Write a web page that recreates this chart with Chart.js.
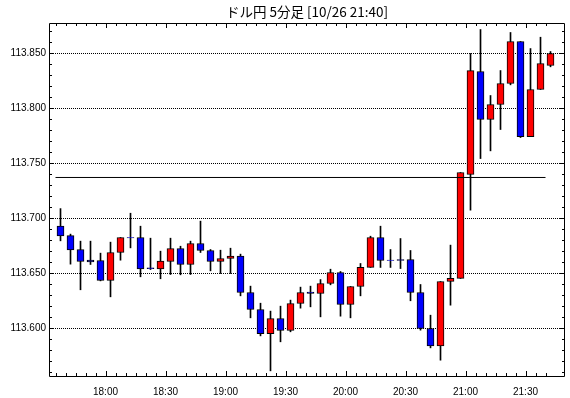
<!DOCTYPE html>
<html>
<head>
<meta charset="utf-8">
<script src="https://cdn.jsdelivr.net/npm/chart.js@4/dist/chart.umd.min.js"></script>
<style>
  body { margin: 0; background: #fff; }
  #wrap { width: 570px; height: 398px; }
</style>
</head>
<body>
<div id="wrap"><canvas id="myChart" width="570" height="398"></canvas></div>
<script>
const title = "ドル円 5分足 [10/26 21:40]";

// 5 minute candles, start time of each bar
const times = [
  "17:35", "17:40", "17:45", "17:50", "17:55", "18:00", "18:05", "18:10", "18:15", "18:20",
  "18:25", "18:30", "18:35", "18:40", "18:45", "18:50", "18:55", "19:00", "19:05", "19:10",
  "19:15", "19:20", "19:25", "19:30", "19:35", "19:40", "19:45", "19:50", "19:55", "20:00",
  "20:05", "20:10", "20:15", "20:20", "20:25", "20:30", "20:35", "20:40", "20:45", "20:50",
  "20:55", "21:00", "21:05", "21:10", "21:15", "21:20", "21:25", "21:30", "21:35", "21:40"
];
const open = [
  113.6930, 113.6845, 113.6718, 113.6621, 113.6618, 113.6436, 113.6691, 113.6827, 113.6827, 113.6552,
  113.6542, 113.6609, 113.6727, 113.6582, 113.6773, 113.6709, 113.6609, 113.6636, 113.6658, 113.6327,
  113.6173, 113.5952, 113.6091, 113.5982, 113.6227, 113.6330, 113.6318, 113.6409, 113.6509, 113.6218,
  113.6382, 113.6555, 113.6827, 113.6621, 113.6627, 113.6627, 113.6327, 113.6000, 113.5842, 113.6427,
  113.6455, 113.7400, 113.8336, 113.7900, 113.8036, 113.8227, 113.8609, 113.7745, 113.8173, 113.8391
];
const high = [
  113.7090, 113.6858, 113.6794, 113.6794, 113.6685, 113.6785, 113.6827, 113.7048, 113.6930, 113.6821,
  113.6703, 113.6821, 113.6748, 113.6794, 113.6976, 113.6718, 113.6712, 113.6730, 113.6676, 113.6385,
  113.6230, 113.6158, 113.6203, 113.6258, 113.6376, 113.6385, 113.6445, 113.6539, 113.6518, 113.6382,
  113.6591, 113.6839, 113.6930, 113.6718, 113.6818, 113.6709, 113.6400, 113.6121, 113.6427, 113.6758,
  113.7418, 113.8500, 113.8718, 113.8118, 113.8345, 113.8691, 113.8609, 113.8545, 113.8648, 113.8518
];
const low = [
  113.6797, 113.6585, 113.6352, 113.6582, 113.6433, 113.6288, 113.6621, 113.6733, 113.6470, 113.6536,
  113.6452, 113.6491, 113.6488, 113.6491, 113.6691, 113.6524, 113.6500, 113.6500, 113.6297, 113.6097,
  113.5933, 113.5615, 113.5879, 113.5970, 113.6185, 113.6197, 113.6106, 113.6397, 113.6112, 113.6097,
  113.6297, 113.6555, 113.6555, 113.6555, 113.6545, 113.6252, 113.5985, 113.5824, 113.5712, 113.6212,
  113.6455, 113.7076, 113.7545, 113.7615, 113.7809, 113.8215, 113.7736, 113.7745, 113.8173, 113.8379
];
const close = [
  113.6842, 113.6715, 113.6609, 113.6606, 113.6436, 113.6691, 113.6827, 113.6824, 113.6542, 113.6545,
  113.6612, 113.6727, 113.6582, 113.6773, 113.6709, 113.6609, 113.6636, 113.6658, 113.6327, 113.6173,
  113.5952, 113.6091, 113.5982, 113.6227, 113.6327, 113.6320, 113.6409, 113.6509, 113.6218, 113.6382,
  113.6555, 113.6827, 113.6618, 113.6618, 113.6618, 113.6327, 113.6000, 113.5842, 113.6427, 113.6455,
  113.7418, 113.8345, 113.7900, 113.8036, 113.8227, 113.8609, 113.7745, 113.8173, 113.8409, 113.8500
];

// flat reference line
const refLevel = 113.7373;
const refFrom = "17:35";
const refTo = "21:40";

const yMin = 113.556818;
const yMax = 113.877727;

function toMin(t) {
  const [h, m] = t.split(":").map(Number);
  return h * 60 + m;
}
function toTime(m) {
  const h = Math.floor(m / 60);
  const mm = m % 60;
  return h + ":" + String(mm).padStart(2, "0");
}
function isMajorY(v) {
  return Math.round(v * 1000) % 50 === 0;
}

const centers = times.map((t) => toMin(t) + 2.5);
const upColor = "#ff0000";
const downColor = "#0000ff";

const bodies = centers.map((x, i) => ({ x: x, y: [open[i], close[i]] }));
const bodyColors = centers.map((x, i) => (close[i] >= open[i] ? upColor : downColor));
const wicks = centers.map((x, i) => ({ x: x, y: [low[i], high[i]] }));

// frame and inward tick marks like the original chart
const framePlugin = {
  id: "frame",
  afterDraw(chart) {
    const ctx = chart.ctx;
    const a = chart.chartArea;
    const xs = chart.scales.x;
    const ys = chart.scales.y;
    ctx.save();
    ctx.strokeStyle = "#000";
    ctx.lineWidth = 1;
    ctx.beginPath();
    ctx.rect(a.left + 0.5, a.top + 0.5, a.right - a.left - 1, a.bottom - a.top);
    ctx.stroke();
    ctx.beginPath();
    xs.ticks.forEach((t) => {
      const px = Math.round(xs.getPixelForValue(t.value)) + 0.5;
      const len = t.value % 30 === 0 ? 5 : 3;
      ctx.moveTo(px, a.bottom);
      ctx.lineTo(px, a.bottom - len);
      ctx.moveTo(px, a.top);
      ctx.lineTo(px, a.top + len);
    });
    ys.ticks.forEach((t) => {
      const py = Math.round(ys.getPixelForValue(t.value) - 0.5) + 0.5;
      const len = isMajorY(t.value) ? 5 : 3;
      ctx.moveTo(a.left, py);
      ctx.lineTo(a.left + len, py);
      ctx.moveTo(a.right, py);
      ctx.lineTo(a.right - len, py);
    });
    ctx.stroke();
    ctx.restore();
  },
};

const labelFont = { family: "Liberation Sans", size: 10 };

const config = {
  type: "bar",
  data: {
    datasets: [
      {
        type: "line",
        data: [
          { x: toMin(refFrom), y: refLevel },
          { x: toMin(refTo), y: refLevel },
        ],
        borderColor: "#000",
        borderWidth: 1,
        pointRadius: 0,
      },
      {
        data: bodies,
        backgroundColor: bodyColors,
        borderColor: "#000",
        borderWidth: 1,
        borderSkipped: false,
        barThickness: 7,
        grouped: false,
      },
      {
        data: wicks,
        backgroundColor: "#000",
        borderWidth: 0,
        barThickness: 1,
        grouped: false,
      },
    ],
  },
  options: {
    responsive: false,
    animation: false,
    layout: { padding: { left: 0, right: 5, top: 0, bottom: 0 } },
    plugins: {
      legend: { display: false },
      tooltip: { enabled: false },
      title: {
        display: true,
        text: title,
        color: "#000",
        fullSize: false,
        font: { family: "Noto Sans CJK JP", size: 13.5, weight: "normal", lineHeight: 15 / 13.5 },
        padding: { top: 4, bottom: 4 },
      },
    },
    scales: {
      x: {
        type: "linear",
        min: 1051.75,
        max: 1309.75,
        offset: false,
        grid: { display: false, offset: false },
        border: { display: false },
        afterBuildTicks(scale) {
          const ticks = [];
          for (let m = toMin(times[0]); m <= toMin(times[times.length - 1]); m += 5) {
            ticks.push({ value: m });
          }
          scale.ticks = ticks;
        },
        afterFit(scale) {
          scale.height = 22;
        },
        ticks: {
          autoSkip: false,
          maxRotation: 0,
          padding: 2,
          color: "#000",
          font: labelFont,
          callback: (v) => (v % 30 === 0 ? toTime(v) : ""),
        },
      },
      y: {
        type: "linear",
        min: yMin,
        max: yMax,
        grid: {
          drawTicks: false,
          lineWidth: 1,
          color: (c) => (c.tick && isMajorY(c.tick.value) ? "#000" : "rgba(0,0,0,0)"),
        },
        border: { display: false, dash: [1, 1] },
        afterBuildTicks(scale) {
          const ticks = [];
          for (let k = 11356; k <= 11387; k++) {
            ticks.push({ value: k / 100 });
          }
          scale.ticks = ticks;
        },
        afterFit(scale) {
          scale.width = 49;
        },
        ticks: {
          autoSkip: false,
          padding: 3,
          color: "#000",
          font: labelFont,
          callback: (v) => (isMajorY(v) ? v.toFixed(3) : ""),
        },
      },
    },
  },
  plugins: [framePlugin],
};

const myChart = document.getElementById("myChart");
const chartInstance = new Chart(myChart, config);
</script>
</body>
</html>
